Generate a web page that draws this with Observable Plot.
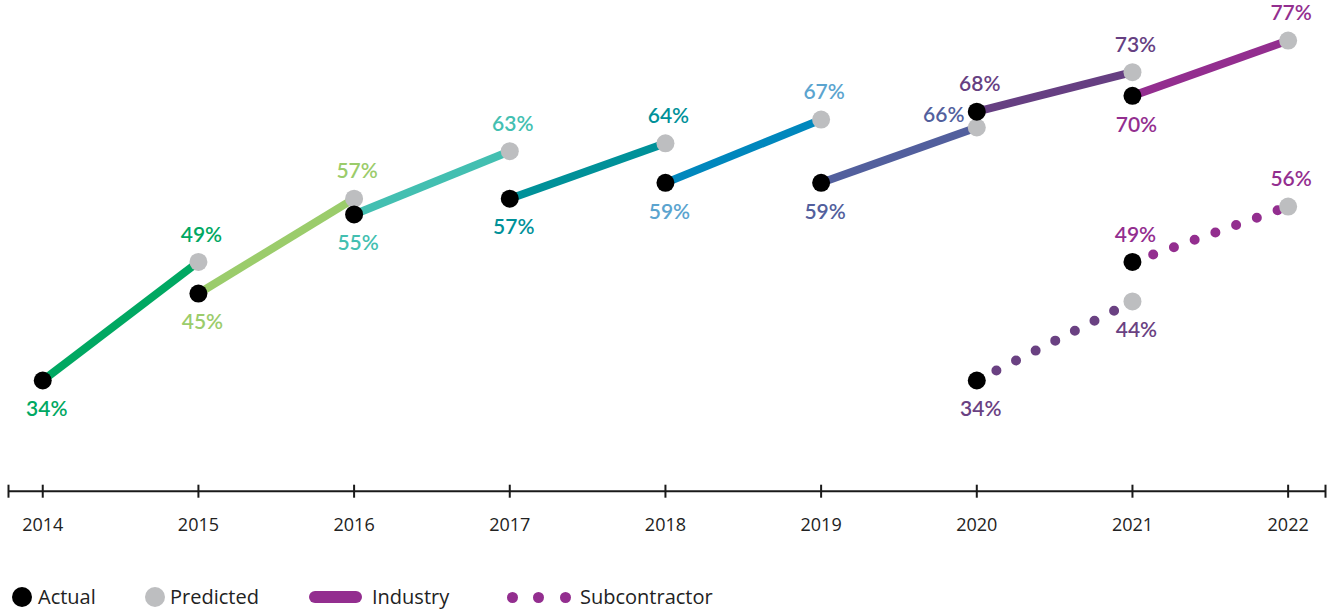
<!DOCTYPE html>
<html><head><meta charset="utf-8">
<script src="https://cdn.jsdelivr.net/npm/d3@7"></script>
<script src="https://cdn.jsdelivr.net/npm/@observablehq/plot@0.6"></script>
<style>
html,body{margin:0;padding:0;background:#fff;}
#wrap{position:relative;width:1332px;height:612px;overflow:hidden;font-family:Lato,"Open Sans",sans-serif;}
#legend{position:absolute;left:0;top:582px;width:1332px;height:30px;}
.sw{position:absolute;}
.lt{position:absolute;top:0;height:30px;line-height:30px;font-size:20px;color:#222;white-space:nowrap;font-family:"Open Sans",Lato,sans-serif;}
</style></head><body><div id="wrap"><div id="chart"></div><div id="legend"></div></div>
<script>
const years = [2014, 2015, 2016, 2017, 2018, 2019, 2020, 2021, 2022];
const industryStart = [2014, 2015, 2016, 2017, 2018, 2019, 2020, 2021];
const industryActual = [34, 45, 55, 57, 59, 59, 68, 70];
const industryPredicted = [49, 57, 63, 64, 67, 66, 73, 77];
const industryColors = ["#00a862", "#9bcc6b", "#43bfb1", "#009199", "#0087bd", "#525f9d", "#663f82", "#932e8f"];
const industryLabelColors = ["#00a862", "#9bcc6b", "#43bfb1", "#009199", "#5ba4cf", "#525f9d", "#663f82", "#932e8f"];
const subStart = [2020, 2021];
const subActual = [34, 49];
const subPredicted = [44, 56];
const subColors = ["#6a4182", "#932e8f"];
const legendLabels = ["Actual", "Predicted", "Industry", "Subcontractor"];

const xDomain = [2013.78, 2022.24];
const yDomain = [20, 80];
const ACTUAL = "#000000", PREDICTED = "#bdbec0", AXIS = "#1a1a1a";

const industrySeg = industryStart.flatMap((s, i) => [
  {seg: "i" + i, year: s, value: industryActual[i], color: industryColors[i]},
  {seg: "i" + i, year: s + 1, value: industryPredicted[i], color: industryColors[i]}
]);
const subSeg = subStart.flatMap((s, i) => [
  {seg: "s" + i, year: s, value: subActual[i], color: subColors[i]},
  {seg: "s" + i, year: s + 1, value: subPredicted[i], color: subColors[i]}
]);

// points with label placement
const pts = [];
industryStart.forEach((s, i) => {
  const predSame = industryStart.indexOf(s - 1);
  const actAbove = predSame >= 0 && industryActual[i] > industryPredicted[predSame];
  pts.push({kind: "actual", year: s, value: industryActual[i], color: industryLabelColors[i], place: actAbove ? "above" : "below"});
  const actSame = industryStart.indexOf(s + 1);
  const lower = actSame >= 0 && industryPredicted[i] < industryActual[actSame];
  pts.push({kind: "predicted", year: s + 1, value: industryPredicted[i], color: industryLabelColors[i], place: lower ? "left" : "above"});
});
subStart.forEach((s, i) => {
  const predSame = subStart.indexOf(s - 1);
  const above = predSame >= 0 && subActual[i] > subPredicted[predSame];
  pts.push({kind: "actual", year: s, value: subActual[i], color: subColors[i], place: above ? "above" : "below"});
  const actSame = subStart.indexOf(s + 1);
  const below = actSame >= 0 && subPredicted[i] < subActual[actSame];
  pts.push({kind: "predicted", year: s + 1, value: subPredicted[i], color: subColors[i], place: below ? "below" : "above"});
});
pts.forEach(p => p.label = p.value + "%");

const labelStyle = {x: "year", y: "value", text: "label", fill: "color", fontSize: 21, fontWeight: 600, fontFamily: "Lato, 'Open Sans', sans-serif"};

const chart = Plot.plot({
  width: 1332, height: 570,
  marginLeft: 8, marginRight: 7, marginTop: 16.3, marginBottom: 79.3,
  x: {domain: xDomain, axis: null},
  y: {domain: yDomain, axis: null},
  color: {type: "identity"},
  style: {fontFamily: "Lato, 'Open Sans', sans-serif", background: "#fff"},
  marks: [
    Plot.ruleY([yDomain[0]], {stroke: AXIS, strokeWidth: 2}),
    Plot.ruleX(years, {x: d => d, y1: yDomain[0], y2: yDomain[0], insetTop: -6, insetBottom: -7, stroke: AXIS, strokeWidth: 2}),
    Plot.ruleX(xDomain, {x: d => d, y1: yDomain[0], y2: yDomain[0], insetTop: -6, insetBottom: -7, stroke: AXIS, strokeWidth: 2}),
    Plot.text(years, {x: d => d, y: yDomain[0], text: d => String(d), dy: 34, fill: "#222", fontSize: 18, fontFamily: "'Open Sans', Lato, sans-serif"}),
    Plot.line(industrySeg, {x: "year", y: "value", z: "seg", stroke: "color", strokeWidth: 8, strokeLinecap: "butt"}),
    Plot.line(subSeg, {x: "year", y: "value", z: "seg", stroke: "color", strokeWidth: 10, strokeLinecap: "round", strokeDasharray: "0 22"}),
    Plot.dot(pts.filter(p => p.kind === "predicted"), {x: "year", y: "value", r: 9, fill: PREDICTED}),
    Plot.dot(pts.filter(p => p.kind === "actual"), {x: "year", y: "value", r: 9, fill: ACTUAL}),
    Plot.text(pts.filter(p => p.place === "above"), {...labelStyle, dx: 3, dy: -27}),
    Plot.text(pts.filter(p => p.place === "below"), {...labelStyle, dx: 4, dy: 29}),
    Plot.text(pts.filter(p => p.place === "left"), {...labelStyle, dx: -33, dy: -12})
  ]
});
document.getElementById("chart").appendChild(chart);

// legend
const legend = document.getElementById("legend");
function add(html) { legend.insertAdjacentHTML("beforeend", html); }
add(`<div class="sw" style="left:12px;top:5px;width:20px;height:20px;border-radius:50%;background:${ACTUAL}"></div>`);
add(`<div class="lt" style="left:38px">${legendLabels[0]}</div>`);
add(`<div class="sw" style="left:145px;top:5px;width:20px;height:20px;border-radius:50%;background:${PREDICTED}"></div>`);
add(`<div class="lt" style="left:170px">${legendLabels[1]}</div>`);
add(`<div class="sw" style="left:309px;top:9px;width:53px;height:12px;border-radius:6px;background:${industryColors[industryColors.length-1]}"></div>`);
add(`<div class="lt" style="left:372px">${legendLabels[2]}</div>`);
[512, 538, 565].forEach(cx => add(`<div class="sw" style="left:${cx-5.5}px;top:9.5px;width:11px;height:11px;border-radius:50%;background:${subColors[subColors.length-1]}"></div>`));
add(`<div class="lt" style="left:580px">${legendLabels[3]}</div>`);
</script></body></html>
